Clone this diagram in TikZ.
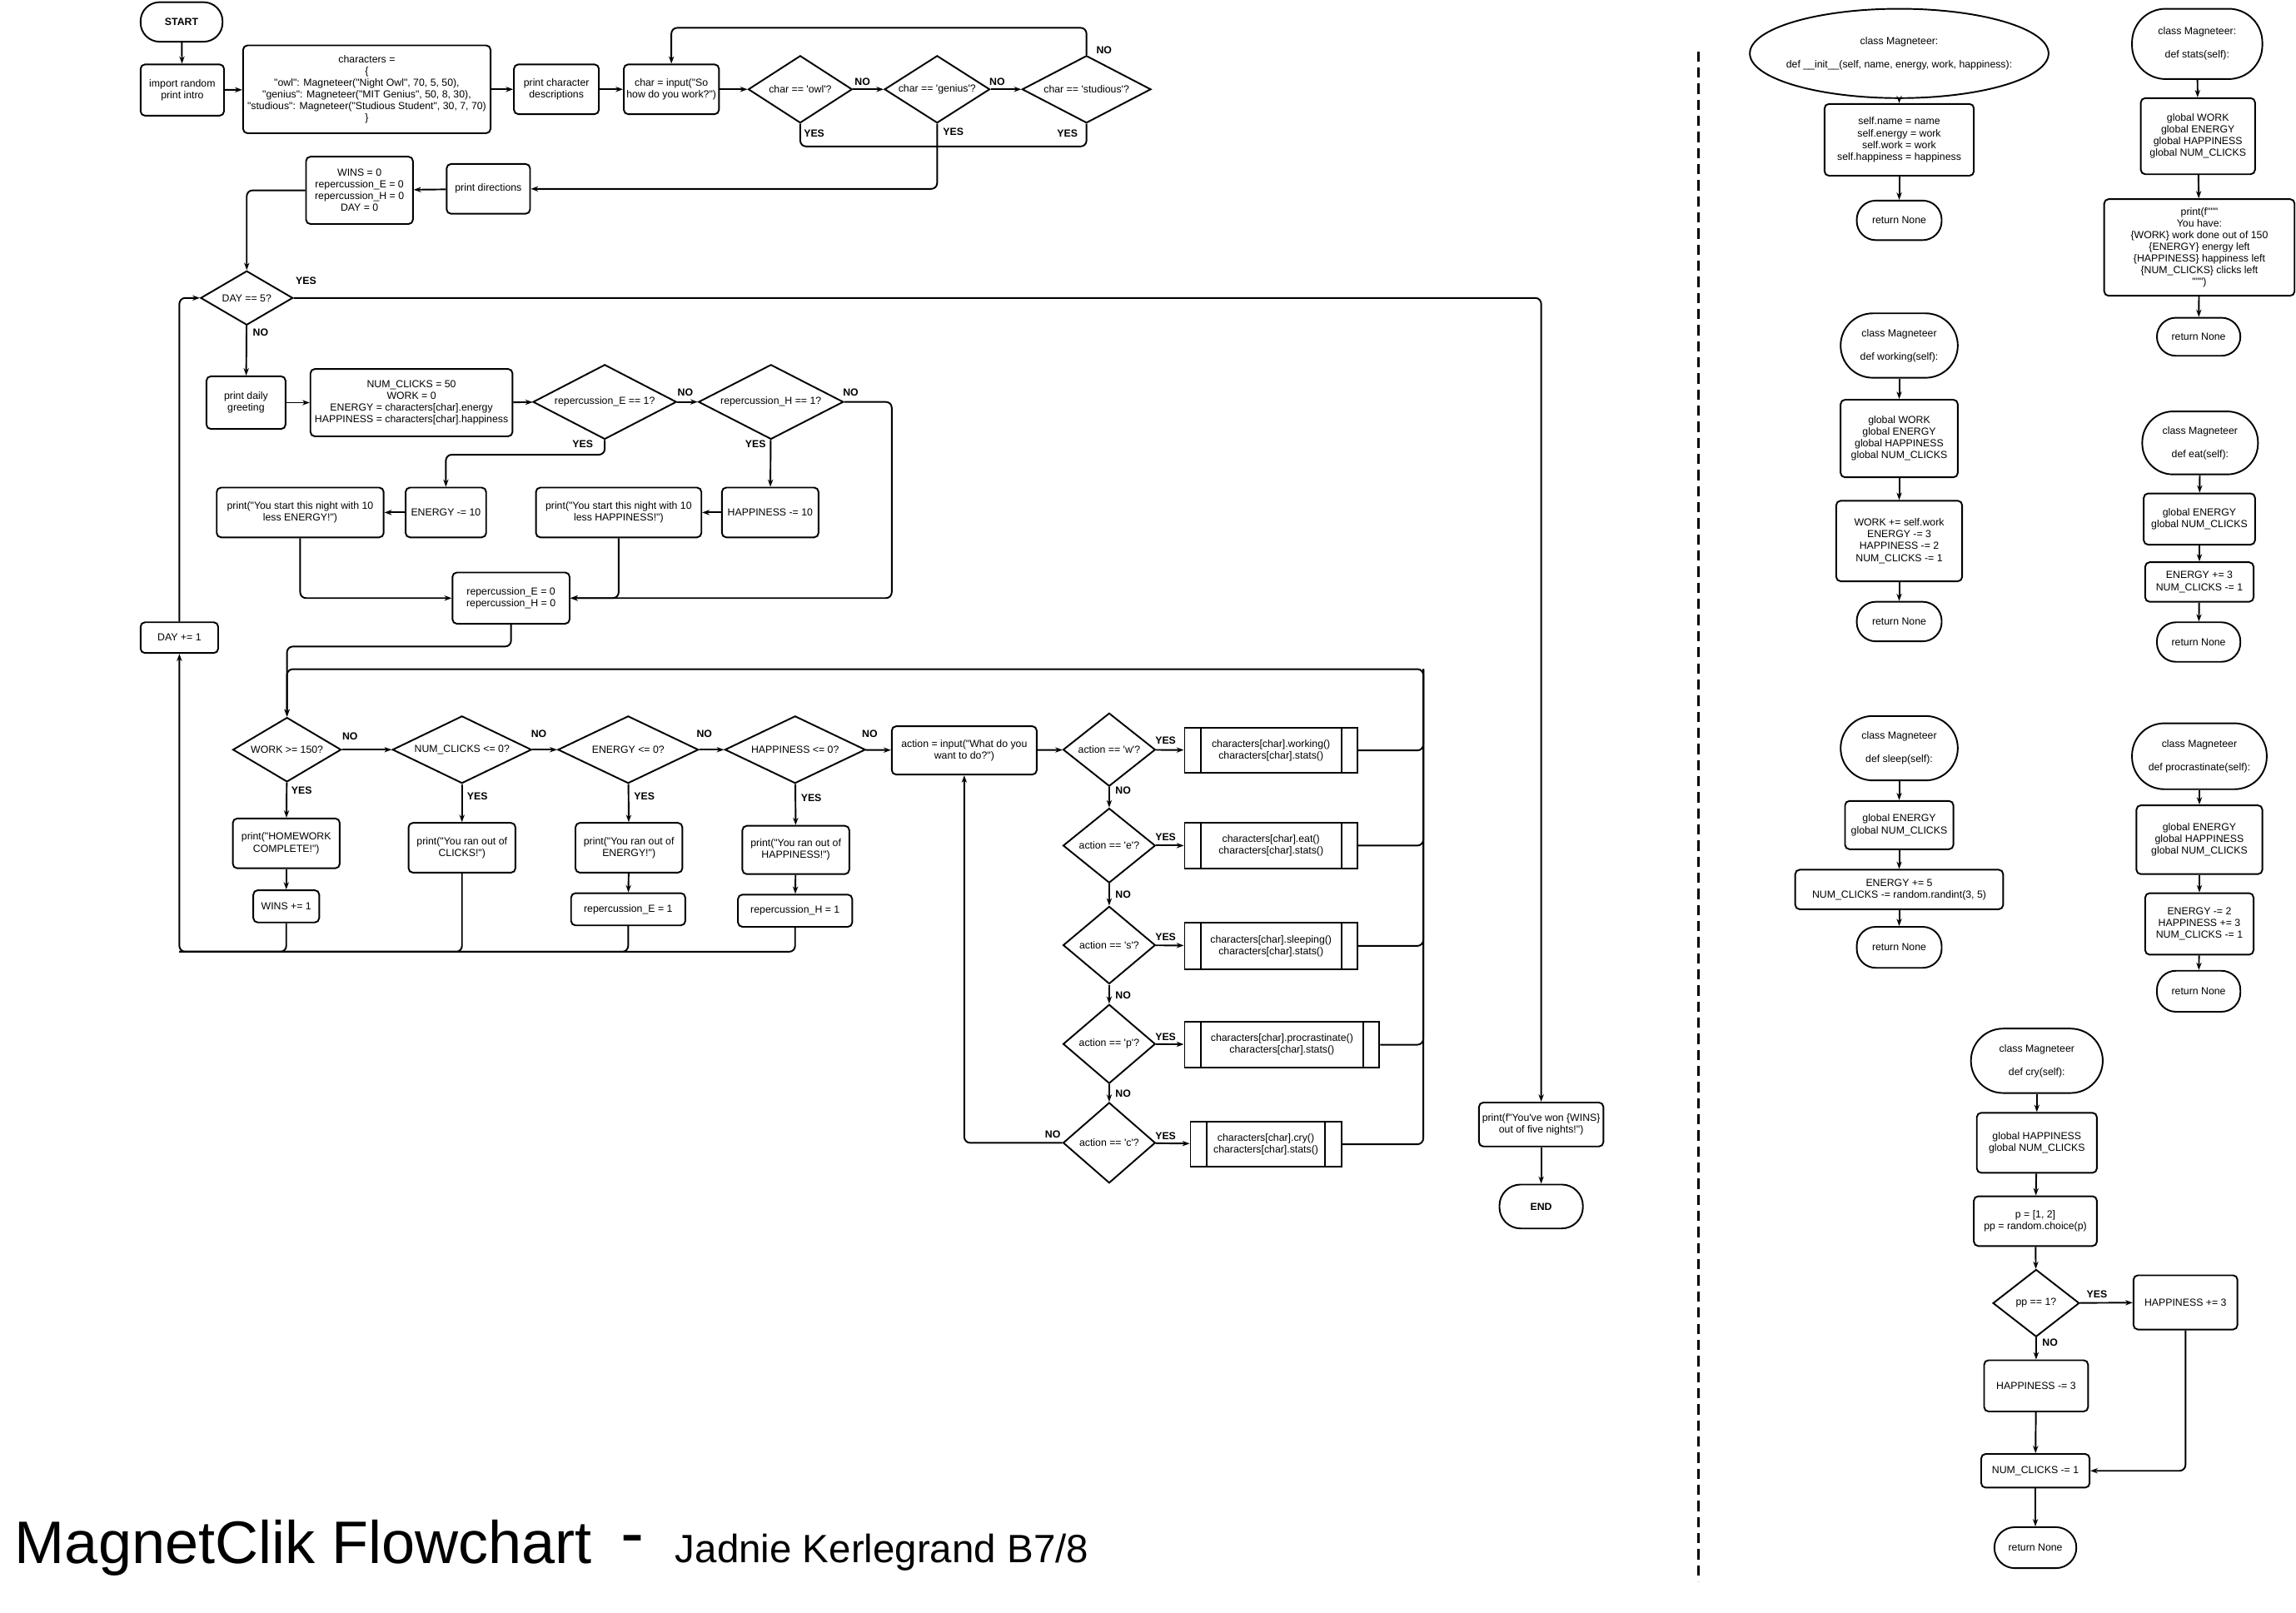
\documentclass[tikz,border=0pt]{standalone}
\usepackage{fontspec}
\setmainfont{Liberation Sans}
\newfontfamily\lsans{Liberation Sans}
\usetikzlibrary{shapes.geometric,arrows.meta,calc}
\newcommand{\fs}{\lsans\fontsize{7}{8}\selectfont}
\newcommand{\fsb}{\lsans\bfseries\fontsize{7}{8}\selectfont}
\tikzset{
 base/.style={draw, line width=1.1pt, font=\fs, align=center, inner sep=1pt},
 box/.style={base, rectangle, rounded corners=3pt},
 term/.style={base, rectangle, rounded corners=#1},
 dec/.style={base, diamond, inner sep=0pt},
 subbox/.style={base, rectangle, path picture={
   \draw[line width=1.1pt] ([xshift=11pt]path picture bounding box.north west) -- ([xshift=11pt]path picture bounding box.south west);
   \draw[line width=1.1pt] ([xshift=-11pt]path picture bounding box.north east) -- ([xshift=-11pt]path picture bounding box.south east);}},
 arr/.style={line width=1.1pt, rounded corners=4pt, -{Stealth[length=5pt,width=3.6pt]}},
 ln/.style={line width=1.1pt, rounded corners=4pt},
 lab/.style={font=\fsb, inner sep=0pt},
}
\begin{document}
\begin{tikzpicture}[x=1pt,y=-1pt]
\useasboundingbox (0,0) rectangle (1568,1101.6);
% ---------- top row
\node[term=13pt, font=\fsb, minimum width=56pt, minimum height=27pt] (start) at (124,15) {START};
\node[box, minimum width=57pt, minimum height=35pt] (imp) at (124.5,61.5) {import random\\print intro};
\node[box, minimum width=169pt, minimum height=60pt] (chars) at (250.5,61) {characters =\\\{\\"owl": Magneteer("Night Owl", 70, 5, 50),\\"genius": Magneteer("MIT Genius", 50, 8, 30),\\"studious": Magneteer("Studious Student", 30, 7, 70)\\\}};
\node[box, minimum width=58pt, minimum height=34pt] (pcd) at (380,61) {print character\\descriptions};
\node[box, minimum width=65pt, minimum height=34pt] (inp) at (458.5,61) {char = input("So\\how do you work?")};
\node[dec, aspect=1.54, minimum width=71pt, minimum height=46pt] (owl) at (546.5,61) {char == 'owl'?};
\node[dec, aspect=1.56, minimum width=72pt, minimum height=46pt] (gen) at (640,61) {char == 'genius'?};
\node[dec, aspect=1.91, minimum width=88pt, minimum height=46pt] (stu) at (742,61) {char == 'studious'?};
\node[box, minimum width=57pt, minimum height=34pt] (pdir) at (333.5,129) {print directions};
\node[box, minimum width=73pt, minimum height=46pt] (wins) at (245.5,130) {WINS = 0\\repercussion\_E = 0\\repercussion\_H = 0\\DAY = 0};
\node[dec, aspect=1.7, minimum width=63pt, minimum height=37pt] (day) at (168.5,203.5) {DAY == 5?};
% ---------- day row
\node[box, minimum width=54pt, minimum height=36pt] (greet) at (168,275) {print daily\\greeting};
\node[box, minimum width=138pt, minimum height=46pt] (numc) at (281,275) {NUM\_CLICKS = 50\\WORK = 0\\ENERGY = characters[char].energy\\HAPPINESS = characters[char].happiness};
\node[dec, aspect=1.92, minimum width=98pt, minimum height=51pt] (repE) at (413,274.5) {repercussion\_E == 1?};
\node[dec, aspect=1.94, minimum width=99pt, minimum height=51pt] (repH) at (526.5,274.5) {repercussion\_H == 1?};
\node[box, minimum width=55pt, minimum height=34pt] (enm) at (304.5,350) {ENERGY -= 10};
\node[box, minimum width=114pt, minimum height=34pt] (penm) at (205,350) {print("You start this night with 10\\less ENERGY!")};
\node[box, minimum width=66pt, minimum height=34pt] (hm) at (526,350) {HAPPINESS -= 10};
\node[box, minimum width=113pt, minimum height=34pt] (phm) at (422.5,350) {print("You start this night with 10\\less HAPPINESS!")};
\node[box, minimum width=80pt, minimum height=35pt] (rep0) at (349,408.5) {repercussion\_E = 0\\repercussion\_H = 0};
\node[box, minimum width=53pt, minimum height=21pt] (dayp) at (122.5,435.5) {DAY += 1};
% ---------- loop row
\node[dec, aspect=1.68, minimum width=74pt, minimum height=44pt] (work) at (196,512) {WORK >= 150?};
\node[dec, aspect=2.07, minimum width=95pt, minimum height=46pt] (clk) at (315.5,512) {NUM\_CLICKS <= 0?};
\node[dec, aspect=2.09, minimum width=96pt, minimum height=46pt] (en) at (429,512) {ENERGY <= 0?};
\node[dec, aspect=2.09, minimum width=96pt, minimum height=46pt] (hp) at (543,512) {HAPPINESS <= 0?};
\node[box, minimum width=99pt, minimum height=33pt] (act) at (658.5,512.5) {action = input("What do you\\want to do?")};
\node[dec, aspect=1.26, minimum width=63pt, minimum height=50pt] (dw) at (757.5,512) {action == 'w'?};
\node[dec, aspect=1.24, minimum width=63pt, minimum height=51pt] (de) at (757.5,577.5) {action == 'e'?};
\node[dec, aspect=1.19, minimum width=63pt, minimum height=53pt] (ds) at (757.5,645.5) {action == 's'?};
\node[dec, aspect=1.17, minimum width=63pt, minimum height=54pt] (dp) at (757.5,713) {action == 'p'?};
\node[dec, aspect=1.15, minimum width=63pt, minimum height=55pt] (dc) at (757.5,780.5) {action == 'c'?};
\node[subbox, minimum width=118pt, minimum height=31pt] (wb) at (868,512.5) {characters[char].working()\\characters[char].stats()};
\node[subbox, minimum width=118pt, minimum height=31pt] (eb) at (868,577.5) {characters[char].eat()\\characters[char].stats()};
\node[subbox, minimum width=118pt, minimum height=32pt] (sb) at (868,646) {characters[char].sleeping()\\characters[char].stats()};
\node[subbox, minimum width=133pt, minimum height=31pt] (pb) at (875.5,713.5) {characters[char].procrastinate()\\characters[char].stats()};
\node[subbox, minimum width=103pt, minimum height=31pt] (cb) at (864.5,781.5) {characters[char].cry()\\characters[char].stats()};
\node[box, minimum width=73pt, minimum height=34pt] (hw) at (195.5,576) {print("HOMEWORK\\COMPLETE!")};
\node[box, minimum width=45pt, minimum height=22pt] (w1) at (195.5,619) {WINS += 1};
\node[box, minimum width=73pt, minimum height=34pt] (pclk) at (315.5,579) {print("You ran out of\\CLICKS!")};
\node[box, minimum width=73pt, minimum height=34pt] (pen) at (429.5,579) {print("You ran out of\\ENERGY!")};
\node[box, minimum width=78pt, minimum height=22pt] (re1) at (429,621) {repercussion\_E = 1};
\node[box, minimum width=73pt, minimum height=33pt] (php) at (543.5,580.5) {print("You ran out of\\HAPPINESS!")};
\node[box, minimum width=78pt, minimum height=22pt] (rh1) at (543,622) {repercussion\_H = 1};
\node[box, minimum width=85pt, minimum height=30pt] (won) at (1052.5,768) {print(f"You've won \{WINS\}\\out of five nights!")};
\node[term=14.5pt, font=\fsb, minimum width=57pt, minimum height=30pt] (endn) at (1052.5,824) {END};
% ---------- coordinates
\coordinate (cT) at (458.5,19);
\coordinate (cY) at (742,100);
\coordinate (cH) at (609,408.5);
\coordinate (cR) at (972,457);
\coordinate (cB) at (122.5,650);
% ---------- connectors (main)
\draw[arr] (start) -- (imp);
\draw[arr] (imp) -- (chars);
\draw[arr] (chars) -- (pcd);
\draw[arr] (pcd) -- (inp);
\draw[arr] (inp) -- (owl);
\draw[arr] (owl) -- (gen);
\draw[arr] (gen) -- (stu);
\draw[arr] (stu.north) |- (cT) -- (inp.north);
\draw[ln] (owl.south) |- (cY) -- (stu.south);
\draw[arr] (gen.south) |- (pdir.east);
\draw[arr] (pdir) -- (wins);
\draw[arr] (wins.west) -| (day.north);
\draw[arr] (day.east) -| (won.north);
\draw[arr] (day) -- (greet);
\draw[arr] (greet) -- (numc);
\draw[arr] (numc) -- (repE);
\draw[arr] (repE) -- (repH);
\draw[arr] (repE.south) -- ++(0,10) -| (enm.north);
\draw[arr] (enm) -- (penm);
\draw[arr] (repH) -- (hm);
\draw[arr] (hm) -- (phm);
\draw[arr] (repH.east) -| (cH) -- (rep0.east);
\draw[arr] (penm.south) |- (rep0.west);
\draw[arr] (phm.south) |- (rep0.east);
\draw[arr] (rep0.south) -- ++(0,15) -| (work.north);
\draw[arr] (cb.east) -| (cR) -| (work.north);
\draw[ln] (wb.east) -| (cR);
\draw[ln] (eb.east) -| (cR);
\draw[ln] (sb.east) -| (cR);
\draw[ln] (pb.east) -| (cR);
\draw[arr] (work) -- (clk);
\draw[arr] (clk) -- (en);
\draw[arr] (en) -- (hp);
\draw[arr] (hp) -- (act);
\draw[arr] (act) -- (dw);
\draw[arr] (dw) -- (wb);
\draw[arr] (de) -- (eb);
\draw[arr] (ds) -- (sb);
\draw[arr] (dp) -- (pb);
\draw[arr] (dc) -- (cb);
\draw[arr] (dw) -- (de);
\draw[arr] (de) -- (ds);
\draw[arr] (ds) -- (dp);
\draw[arr] (dp) -- (dc);
\draw[arr] (dc.west) -| (act.south);
\draw[arr] (work) -- (hw);
\draw[arr] (hw) -- (w1);
\draw[arr] (clk) -- (pclk);
\draw[arr] (en) -- (pen);
\draw[arr] (pen) -- (re1);
\draw[arr] (hp) -- (php);
\draw[arr] (php) -- (rh1);
\draw[arr] (rh1.south) |- (cB) -- (dayp.south);
\draw[ln] (w1.south) |- (cB);
\draw[ln] (pclk.south) |- (cB);
\draw[ln] (re1.south) |- (cB);
\draw[arr] (dayp.north) |- (day.west);
\draw[arr] (won) -- (endn);
% ---------- labels
\node[lab] (l1) at (589,56) {NO};
\node[lab] (l2) at (681,56) {NO};
\node[lab] (l3) at (754,34) {NO};
\node[lab] (l4) at (556,91) {YES};
\node[lab] (l5) at (651,90) {YES};
\node[lab] (l6) at (729,91) {YES};
\node[lab] (l7) at (209,192) {YES};
\node[lab] (l8) at (178,227) {NO};
\node[lab] (l9) at (468,268) {NO};
\node[lab] (l10) at (581,268) {NO};
\node[lab] (l11) at (398,303) {YES};
\node[lab] (l12) at (516,303) {YES};
\node[lab] (l13) at (239,503) {NO};
\node[lab] (l14) at (368,501) {NO};
\node[lab] (l15) at (481,501) {NO};
\node[lab] (l16) at (594,501) {NO};
\node[lab] (l17) at (206,540) {YES};
\node[lab] (l18) at (326,544) {YES};
\node[lab] (l19) at (440,544) {YES};
\node[lab] (l20) at (554,545) {YES};
\node[lab] (l21) at (796,506) {YES};
\node[lab] (l22) at (796,572) {YES};
\node[lab] (l23) at (796,640) {YES};
\node[lab] (l24) at (796,708) {YES};
\node[lab] (l25) at (796,776) {YES};
\node[lab] (l26) at (767,540) {NO};
\node[lab] (l27) at (767,611) {NO};
\node[lab] (l28) at (767,680) {NO};
\node[lab] (l29) at (767,747) {NO};
\node[lab] (l30) at (719,775) {NO};
% ---------- divider
\coordinate (dt) at (1160,35);
\coordinate (db) at (1160,1080);
\draw[line width=2pt, dash pattern=on 7pt off 4pt] (dt) -- (db);
% ---------- right side: class methods
\node[base, draw=none, minimum width=204pt, minimum height=61pt] (init) at (1297,36.5) {class Magneteer:\\[8pt]def \_\_init\_\_(self, name, energy, work, happiness):};
\draw[line width=1.1pt] (init.center) ellipse [x radius=102pt, y radius=30.5pt];
\node[box, minimum width=102pt, minimum height=49pt] (sn) at (1297,95.5) {self.name = name\\self.energy = work\\self.work = work\\self.happiness = happiness};
\node[term=13pt, minimum width=58pt, minimum height=27pt] (rn1) at (1297,150.5) {return None};
\node[term=23pt, minimum width=89pt, minimum height=48pt] (cst) at (1500.5,30) {class Magneteer:\\[8pt]def stats(self):};
\node[box, minimum width=78pt, minimum height=52pt] (gst) at (1501,93) {global WORK\\global ENERGY\\global HAPPINESS\\global NUM\_CLICKS};
\node[box, minimum width=130pt, minimum height=66pt] (pst) at (1502,169) {print(f"""\\You have:\\\{WORK\} work done out of 150\\\{ENERGY\} energy left\\\{HAPPINESS\} happiness left\\\{NUM\_CLICKS\} clicks left\\""")};
\node[term=13pt, minimum width=57pt, minimum height=26pt] (rn2) at (1501.5,230) {return None};
\node[term=22pt, minimum width=80pt, minimum height=44pt] (cwk) at (1297,236) {class Magneteer\\[8pt]def working(self):};
\node[box, minimum width=80pt, minimum height=53pt] (gwk) at (1297,299.5) {global WORK\\global ENERGY\\global HAPPINESS\\global NUM\_CLICKS};
\node[box, minimum width=86pt, minimum height=55pt] (wwk) at (1297,369.5) {WORK += self.work\\ENERGY -= 3\\HAPPINESS -= 2\\NUM\_CLICKS -= 1};
\node[term=13pt, minimum width=58pt, minimum height=27pt] (rn3) at (1297,424.5) {return None};
\node[term=21pt, minimum width=79pt, minimum height=43pt] (cet) at (1502.5,302.5) {class Magneteer\\[8pt]def eat(self):};
\node[box, minimum width=76pt, minimum height=35pt] (get) at (1502,354.5) {global ENERGY\\global NUM\_CLICKS};
\node[box, minimum width=74pt, minimum height=27pt] (eet) at (1502,397.5) {ENERGY += 3\\NUM\_CLICKS -= 1};
\node[term=13pt, minimum width=57pt, minimum height=27pt] (rn4) at (1501.5,438.5) {return None};
\node[term=22pt, minimum width=80pt, minimum height=44pt] (csl) at (1297,511) {class Magneteer\\[8pt]def sleep(self):};
\node[box, minimum width=74pt, minimum height=33pt] (gsl) at (1297,563.5) {global ENERGY\\global NUM\_CLICKS};
\node[box, minimum width=142pt, minimum height=27pt] (esl) at (1297,607.5) {ENERGY += 5\\NUM\_CLICKS -= random.randint(3, 5)};
\node[term=13pt, minimum width=58pt, minimum height=28pt] (rn5) at (1297,647) {return None};
\node[term=22pt, minimum width=92pt, minimum height=45pt] (cpr) at (1502,516.5) {class Magneteer\\[8pt]def procrastinate(self):};
\node[box, minimum width=86pt, minimum height=47pt] (gpr) at (1502,573.5) {global ENERGY\\global HAPPINESS\\global NUM\_CLICKS};
\node[box, minimum width=74pt, minimum height=42pt] (epr) at (1502,631) {ENERGY -= 2\\HAPPINESS += 3\\NUM\_CLICKS -= 1};
\node[term=13pt, minimum width=57pt, minimum height=28pt] (rn6) at (1501.5,677) {return None};
\node[term=22pt, minimum width=90pt, minimum height=44pt] (ccr) at (1391,724.5) {class Magneteer\\[8pt]def cry(self):};
\node[box, minimum width=82pt, minimum height=41pt] (gcr) at (1391,780.5) {global HAPPINESS\\global NUM\_CLICKS};
\node[box, minimum width=84pt, minimum height=34pt] (pcr) at (1390,834) {p = [1, 2]\\pp = random.choice(p)};
\node[dec, aspect=1.28, minimum width=59pt, minimum height=46pt] (pp) at (1390.5,890) {pp == 1?};
\node[box, minimum width=71pt, minimum height=37pt] (hp3) at (1492.5,889.5) {HAPPINESS += 3};
\node[box, minimum width=71pt, minimum height=35pt] (hm3) at (1390.5,946.5) {HAPPINESS -= 3};
\node[box, minimum width=74pt, minimum height=23pt] (nc1) at (1390,1004.5) {NUM\_CLICKS -= 1};
\node[term=14pt, minimum width=56pt, minimum height=28pt] (rn7) at (1390,1057) {return None};
\node[lab] (l31) at (1432,884) {YES};
\node[lab] (l32) at (1400,917) {NO};
% right connectors
\draw[arr] (init.south) -- (sn);
\draw[arr] (sn) -- (rn1);
\draw[arr] (cst) -- (gst);
\draw[arr] (gst) -- (pst);
\draw[arr] (pst) -- (rn2);
\draw[arr] (cwk) -- (gwk);
\draw[arr] (gwk) -- (wwk);
\draw[arr] (wwk) -- (rn3);
\draw[arr] (cet) -- (get);
\draw[arr] (get) -- (eet);
\draw[arr] (eet) -- (rn4);
\draw[arr] (csl) -- (gsl);
\draw[arr] (gsl) -- (esl);
\draw[arr] (esl) -- (rn5);
\draw[arr] (cpr) -- (gpr);
\draw[arr] (gpr) -- (epr);
\draw[arr] (epr) -- (rn6);
\draw[arr] (ccr) -- (gcr);
\draw[arr] (gcr) -- (pcr);
\draw[arr] (pcr) -- (pp);
\draw[arr] (pp) -- (hp3);
\draw[arr] (pp) -- (hm3);
\draw[arr] (hm3) -- (nc1);
\draw[arr] (hp3.south) |- (nc1.east);
\draw[arr] (nc1) -- (rn7);
% ---------- title
\node[anchor=base west, inner sep=0pt, font=\lsans\fontsize{41}{41}\selectfont] (title) at (10,1068) {MagnetClik Flowchart};
\node[anchor=base, inner sep=0pt, font=\lsans\fontsize{48}{48}\selectfont] (dash) at (432,1063) {-};
\node[anchor=base west, inner sep=0pt, font=\lsans\fontsize{27}{27}\selectfont] (author) at (461,1067) {Jadnie Kerlegrand B7/8};
\end{tikzpicture}
\end{document}
